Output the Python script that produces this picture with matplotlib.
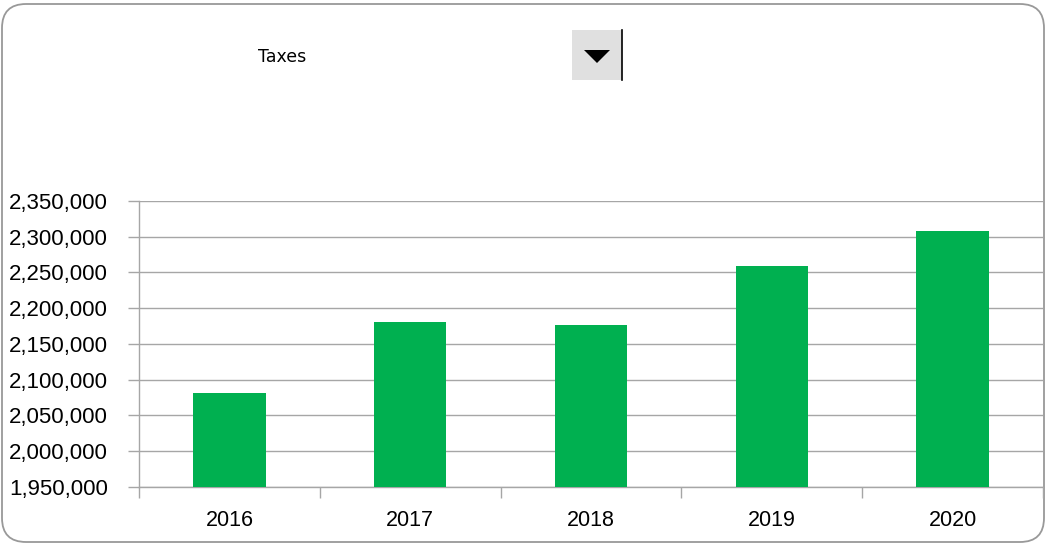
import matplotlib
matplotlib.use("Agg")
from matplotlib import pyplot as plt
from matplotlib.patches import FancyBboxPatch, Rectangle, Polygon
from matplotlib.ticker import FuncFormatter

years = ["2016", "2017", "2018", "2019", "2020"]
taxes = [2081000, 2180000, 2176500, 2259500, 2308500]
selected = "Taxes"

W, H = 1057, 545
plt.rcParams["font.family"] = ["Liberation Sans", "DejaVu Sans"]

fig = plt.figure(figsize=(W / 100, H / 100), dpi=100)

# pixel overlay for frame + dropdown widget
bg = fig.add_axes([0, 0, 1, 1], zorder=0)
bg.set_xlim(0, W)
bg.set_ylim(H, 0)
bg.axis("off")
bg.add_patch(FancyBboxPatch((2, 4), 1042, 538,
                            boxstyle="round,pad=0,rounding_size=24",
                            fc="white", ec="#999999", lw=1.3))
bg.text(282, 57, selected, fontsize=12.5, ha="center", va="center",
        family=["DejaVu Sans"], color="black")
bg.add_patch(Rectangle((572, 30), 50, 50, fc="#e0e0e0", ec="none"))
bg.add_patch(Polygon([(584, 50), (610, 50), (597, 63)], closed=True,
                     fc="black", ec="none"))
bg.plot([622, 622], [30, 80], color="black", lw=1.2)

# chart area
left, right = 139 / W, 1043 / W
bottom, top = 1 - 486.7 / H, 1 - 201 / H
ax = fig.add_axes([left, bottom, right - left, top - bottom], zorder=1)
ax.patch.set_alpha(0)

x = range(len(years))
ax.bar(x, taxes, width=0.4, color="#00b050", zorder=3)
ax.set_xlim(-0.5, len(years) - 0.5)
ax.set_ylim(1950000, 2350000)
ax.set_yticks(range(1950000, 2350001, 50000))
ax.yaxis.set_major_formatter(FuncFormatter(lambda v, p: f"{int(v):,}"))
ax.grid(axis="y", color="#a6a6a6", lw=1, zorder=0)

ax.set_xticks(list(x))
ax.set_xticklabels(years)
ax.set_xticks([i - 0.5 for i in range(len(years) + 1)], minor=True)
ax.tick_params(axis="x", which="major", length=0, pad=17, labelsize=15.5)
ax.tick_params(axis="x", which="minor", length=8, color="#a6a6a6", width=1)
ax.tick_params(axis="y", length=8, color="#a6a6a6", width=1, pad=14.5,
               labelsize=16)

for s in ["top", "right"]:
    ax.spines[s].set_visible(False)
for s in ["left", "bottom"]:
    ax.spines[s].set_color("#a6a6a6")
    ax.spines[s].set_linewidth(1)

fig.savefig("out.png", dpi=100)
